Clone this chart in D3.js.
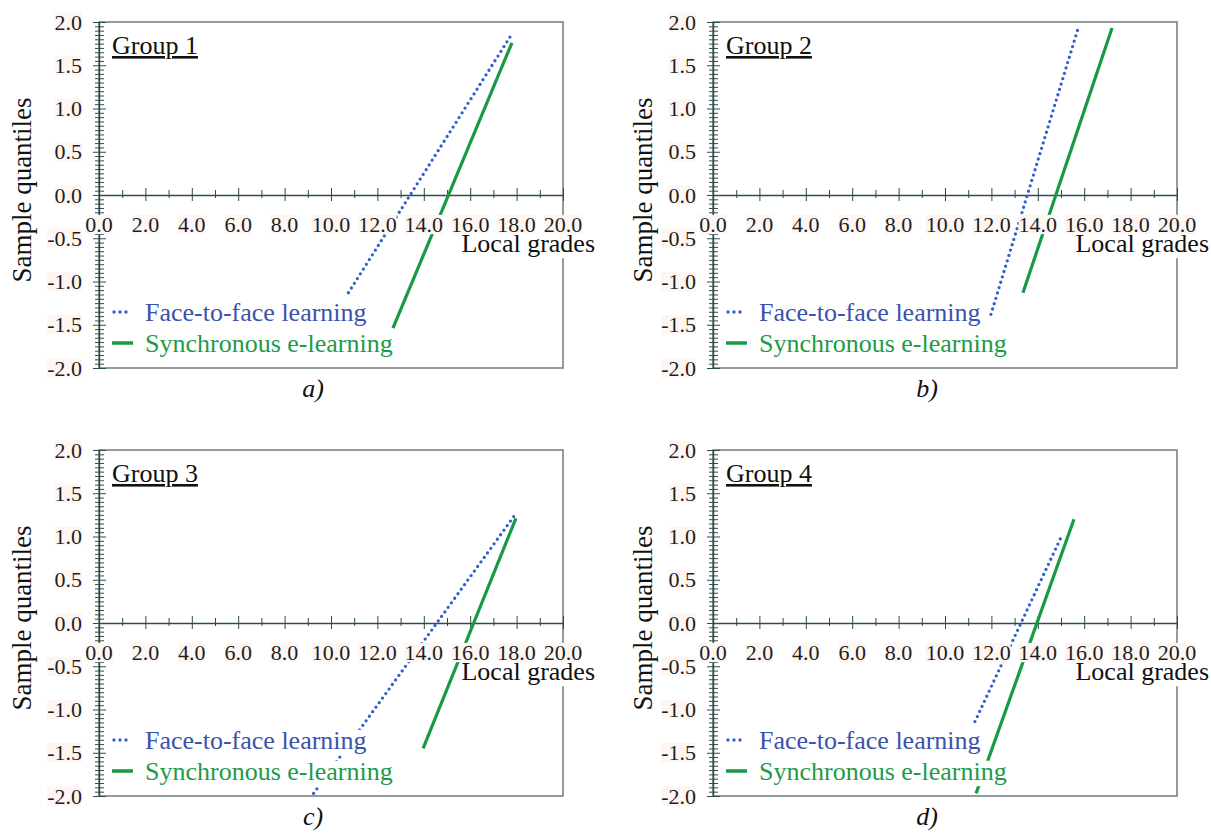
<!DOCTYPE html>
<meta charset="utf-8">
<script src="https://d3js.org/d3.v7.min.js"></script>
<body style="margin:0">
<div id="chart"></div>
<script>

// panel captions and group titles
var panelLabels = ["a)", "b)", "c)", "d)"];
var groupNames = ["Group 1", "Group 2", "Group 3", "Group 4"];

// fitted lines, end points (local grade, sample quantile)
var faceX = [[10.75, 17.84], [11.98, 15.73], [9.25, 17.93], [11.29, 15.0]];
var faceY = [[-1.13, 1.88], [-1.38, 1.92], [-1.97, 1.25], [-1.14, 0.99]];
var syncX = [[12.67, 17.8], [13.36, 17.2], [13.97, 17.97], [11.34, 15.56]];
var syncY = [[-1.54, 1.76], [-1.13, 1.93], [-1.45, 1.21], [-1.97, 1.20]];

// tick labels
var xTickValues = [0, 2, 4, 6, 8, 10, 12, 14, 16, 18, 20];
var yTickValues = [2, 1.5, 1, 0.5, 0, -0.5, -1, -1.5, -2];

var legendNames = ["Face-to-face learning", "Synchronous e-learning"];

var blue = "#2f5fd0", green = "#179a45";
var blueText = "#3b52aa", greenText = "#1f9a48";
var axisCol = "#2f4c4c";

var W = 1211, H = 836;
var svg = d3.select("#chart").append("svg")
    .attr("width", W).attr("height", H);

var offsets = [[0, 0], [614, 0], [0, 428], [614, 428]];
var yTitleX = [31, 38, 31, 38];

var x = d3.scaleLinear().domain([0, 20]).range([99, 563]);
var y = d3.scaleLinear().domain([-2, 2]).range([368, 22]);

// put a tight rect behind a text node (asc/desc as fractions of font size)
function backing(t, fill, asc, desc) {
    var b = t.node().getBBox();
    var size = +t.attr("font-size"), base = +t.attr("y");
    d3.select(t.node().parentNode).insert("rect", function() { return t.node(); })
        .attr("x", b.x).attr("y", base - asc * size)
        .attr("width", b.width).attr("height", (asc + desc) * size)
        .attr("fill", fill);
}

function txt(g, size) {
    return g.append("text")
        .style("font-family", "'Liberation Serif'")
        .attr("font-size", size);
}

panelLabels.forEach(function(lab, i) {
    var g = svg.append("g")
        .attr("transform", "translate(" + offsets[i] + ")");

    // frame
    g.append("rect")
        .attr("x", x(0)).attr("y", y(2))
        .attr("width", x(20) - x(0)).attr("height", y(-2) - y(2))
        .attr("fill", "none")
        .attr("stroke", "#6d7d7d")
        .attr("stroke-width", 1.5);

    // y axis, ticks crossing the line
    var yAx = g.append("g")
        .attr("transform", "translate(" + x(0) + ",0)")
        .call(d3.axisLeft(y)
            .tickValues(d3.range(-40, 41).map(function(d) { return d / 20; }))
            .tickFormat("")
            .tickSizeOuter(0));
    yAx.select(".domain").attr("stroke", axisCol).attr("stroke-width", 1.4);
    yAx.selectAll(".tick line")
        .attr("stroke", axisCol)
        .attr("x1", function(d) { return Math.abs(d * 2 - Math.round(d * 2)) < 1e-6 ? -6 : -4; })
        .attr("x2", function(d) { return Math.abs(d * 2 - Math.round(d * 2)) < 1e-6 ? 7 : 5; });

    // x axis at zero
    var xAx = g.append("g")
        .attr("transform", "translate(0," + y(0) + ")")
        .call(d3.axisBottom(x)
            .tickValues(d3.range(1, 21))
            .tickFormat("")
            .tickSizeOuter(0));
    xAx.select(".domain").attr("stroke", axisCol).attr("stroke-width", 1.4);
    xAx.selectAll(".tick line")
        .attr("stroke", axisCol)
        .attr("y1", function(d) { return d % 2 === 0 ? -7 : -5; })
        .attr("y2", function(d) { return d % 2 === 0 ? 6 : 3; });

    var line = d3.line()
        .x(function(d) { return x(d[0]); })
        .y(function(d) { return y(d[1]); });

    g.append("path")
        .datum(d3.zip(faceX[i], faceY[i]))
        .attr("d", line)
        .attr("fill", "none")
        .attr("stroke", blue)
        .attr("stroke-width", 3.3)
        .attr("stroke-linecap", "round")
        .attr("stroke-dasharray", "0 5.6");

    g.append("path")
        .datum(d3.zip(syncX[i], syncY[i]))
        .attr("d", line)
        .attr("fill", "none")
        .attr("stroke", green)
        .attr("stroke-width", 3.2);

    var xt = txt(g, 26)
        .attr("x", 595).attr("y", 252)
        .attr("text-anchor", "end")
        .attr("fill", "#111")
        .text("Local grades");
    backing(xt, "#fff", 0.74, 0.24);

    // x tick labels
    xTickValues.forEach(function(v) {
        var t = txt(g, 22)
            .attr("x", x(v)).attr("y", 232)
            .attr("text-anchor", "middle")
            .attr("fill", "#1e1e1e")
            .text(v.toFixed(1));
        backing(t, "#fdf6f3", 0.78, 0.1);
    });

    // y tick labels
    yTickValues.forEach(function(v) {
        var t = txt(g, 22)
            .attr("x", 82).attr("y", y(v) + 7.5)
            .attr("text-anchor", "end")
            .attr("fill", "#1e1e1e")
            .text(v.toFixed(1));
        backing(t, "#fdf6f3", 0.78, 0.1);
    });

    txt(g, 27)
        .attr("transform", "translate(" + yTitleX[i] + ",190) rotate(-90)")
        .attr("text-anchor", "middle")
        .attr("fill", "#111")
        .text("Sample quantiles");

    txt(g, 26)
        .attr("x", 112).attr("y", 54)
        .attr("fill", "#111")
        .attr("text-decoration", "underline")
        .text(groupNames[i]);

    // legend
    g.append("line")
        .attr("x1", 114).attr("x2", 131)
        .attr("y1", 312).attr("y2", 312)
        .attr("stroke", blue)
        .attr("stroke-width", 3.3)
        .attr("stroke-linecap", "round")
        .attr("stroke-dasharray", "0 6");
    g.append("line")
        .attr("x1", 112).attr("x2", 133)
        .attr("y1", 343).attr("y2", 343)
        .attr("stroke", green)
        .attr("stroke-width", 3.5);

    var l1 = txt(g, 26)
        .attr("x", 145).attr("y", 321)
        .attr("fill", blueText)
        .text(legendNames[0]);
    backing(l1, "#fff", 0.74, 0.24);
    var l2 = txt(g, 26)
        .attr("x", 145).attr("y", 352)
        .attr("fill", greenText)
        .text(legendNames[1]);
    backing(l2, "#fff", 0.74, 0.24);

    txt(g, 26)
        .attr("x", 313).attr("y", 397)
        .attr("text-anchor", "middle")
        .attr("font-style", "italic")
        .attr("fill", "#111")
        .text(lab);
});
</script>
</body>
